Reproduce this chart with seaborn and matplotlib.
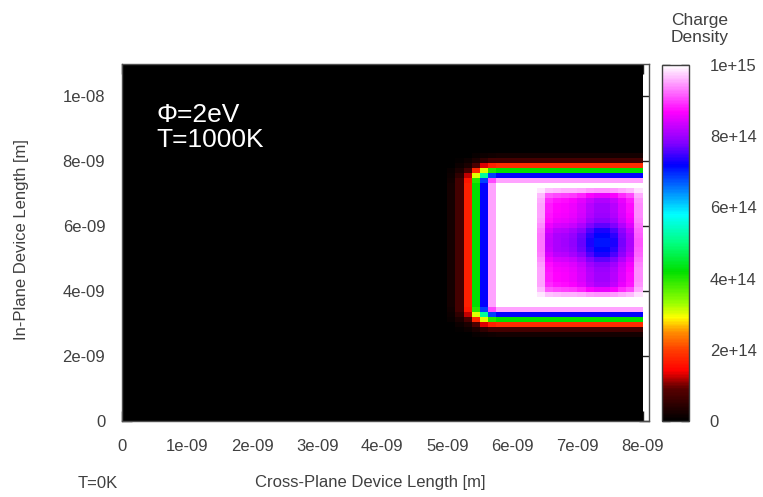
import matplotlib

matplotlib.use("Agg")

import matplotlib.pyplot as plt
import numpy as np
import seaborn as sns
from matplotlib.colors import LinearSegmentedColormap

# grid of the simulated device (cells)
X_MAX = 8e-9
Y_MAX = 1.1e-8
X_LIM = 8.1e-9
NX = 64
NY = 72
PEAK = 1e15

# charge slab profile across the columns (fraction of peak), left -> right
X_PROFILE = [0.0] * 40 + [0.02, 0.07, 0.17, 0.42, 0.72, 0.95] + [1.0] * 18
# charge slab profile across the rows (fraction of peak), bottom -> top
Y_PROFILE = (
    [0.0] * 17
    + [0.02, 0.07, 0.18, 0.42, 0.72, 0.95]
    + [1.0] * 25
    + [0.95, 0.72, 0.42, 0.18, 0.07, 0.02]
    + [0.0] * 18
)
# depletion pocket inside the slab
BLOB_X = [0.0] * 51 + [0.25, 0.6, 0.66, 0.68, 0.72, 0.8, 0.92, 1.0, 1.0, 0.92, 0.78, 0.65, 0.3]
BLOB_Y = (
    [0.0] * 25
    + [0.2, 0.5, 0.65, 0.68, 0.68, 0.7, 0.74, 0.82, 0.92, 0.98, 1.0,
       1.0, 0.98, 0.92, 0.82, 0.74, 0.7, 0.68, 0.68, 0.64, 0.5, 0.2]
    + [0.0] * 25
)
BLOB_DEPTH = 0.29

X_TICKS = [0, 1e-9, 2e-9, 3e-9, 4e-9, 5e-9, 6e-9, 7e-9, 8e-9]
X_TICK_LABELS = ["0", "1e-09", "2e-09", "3e-09", "4e-09", "5e-09", "6e-09", "7e-09", "8e-09"]
Y_TICKS = [0, 2e-9, 4e-9, 6e-9, 8e-9, 1e-8]
Y_TICK_LABELS = ["0", "2e-09", "4e-09", "6e-09", "8e-09", "1e-08"]
CB_TICKS = [0, 2e14, 4e14, 6e14, 8e14, 1e15]
CB_TICK_LABELS = ["0", "2e+14", "4e+14", "6e+14", "8e+14", "1e+15"]

PALETTE = [
    (0.00, "#000000"),
    (0.09, "#5a0000"),
    (0.14, "#ff0000"),
    (0.20, "#ff4000"),
    (0.25, "#ff9000"),
    (0.29, "#ffff00"),
    (0.33, "#99ff00"),
    (0.42, "#00e000"),
    (0.50, "#00ff80"),
    (0.58, "#00ffff"),
    (0.65, "#0080ff"),
    (0.72, "#0000ff"),
    (0.78, "#8000ff"),
    (0.87, "#ff00ff"),
    (0.935, "#ff80ff"),
    (1.00, "#ffffff"),
]

sns.set_theme(style="white")
plt.rcParams.update(
    {
        "font.family": ["Liberation Sans", "DejaVu Sans"],
        "font.size": 12,
        "text.color": "#404040",
        "xtick.color": "#202020",
        "ytick.color": "#202020",
        "xtick.labelcolor": "#404040",
        "ytick.labelcolor": "#404040",
    }
)

cmap = LinearSegmentedColormap.from_list("gnuplot_like", PALETTE)

density = PEAK * (
    np.outer(Y_PROFILE, X_PROFILE) - BLOB_DEPTH * np.outer(BLOB_Y, BLOB_X)
)

fig = plt.figure(figsize=(7.63, 4.97), dpi=100)
ax = fig.add_axes([0.1599, 0.1529, 0.6907, 0.7183])
cax = fig.add_axes([0.8676, 0.1529, 0.0354, 0.7163])

sns.heatmap(
    density,
    cmap=cmap,
    vmin=0,
    vmax=PEAK,
    ax=ax,
    cbar_ax=cax,
    xticklabels=False,
    yticklabels=False,
)

ax.set_facecolor("white")
ax.set_xlim(0, X_LIM / X_MAX * NX)
ax.set_ylim(0, NY)
ax.set_xticks([v / X_MAX * NX for v in X_TICKS])
ax.set_xticklabels(X_TICK_LABELS)
ax.set_yticks([v / Y_MAX * NY for v in Y_TICKS])
ax.set_yticklabels(Y_TICK_LABELS)
ax.tick_params(axis="x", direction="in", length=7, width=1, top=True, bottom=True, pad=13, labelsize=12)
ax.tick_params(axis="y", direction="in", length=7, width=1, left=True, right=True, pad=12, labelsize=12)
for spine in ax.spines.values():
    spine.set_visible(True)
    spine.set_color("#505050")
    spine.set_linewidth(1)

cbar = ax.collections[0].colorbar
cbar.set_ticks(CB_TICKS)
cbar.set_ticklabels(CB_TICK_LABELS)
cbar.outline.set_visible(True)
cbar.outline.set_edgecolor("#404040")
cbar.outline.set_linewidth(1)
cax.tick_params(direction="in", length=6, width=1, left=True, right=True, pad=15, labelsize=12)

ax.text(0.066, 0.89, "\u03a6=2eV\nT=1000K", transform=ax.transAxes, color="white",
        fontsize=19, ha="left", va="top", linespacing=1.05)

fig.text(370 / 763, 1 - 482 / 497, "Cross-Plane Device Length [m]", ha="center", va="center", fontsize=12)
fig.text(22 / 763, 1 - 240 / 497, "In-Plane Device Length [m]", ha="center", va="center",
         rotation=90, fontsize=12)
fig.text(98 / 763, 1 - 483 / 497, "T=0K", ha="center", va="center", fontsize=12)
fig.text(700 / 763, 1 - 29 / 497, "Charge\nDensity", ha="center", va="center", fontsize=12.5,
         linespacing=1.2)

fig.savefig("out.png", dpi=100, facecolor="white")
plt.close(fig)
